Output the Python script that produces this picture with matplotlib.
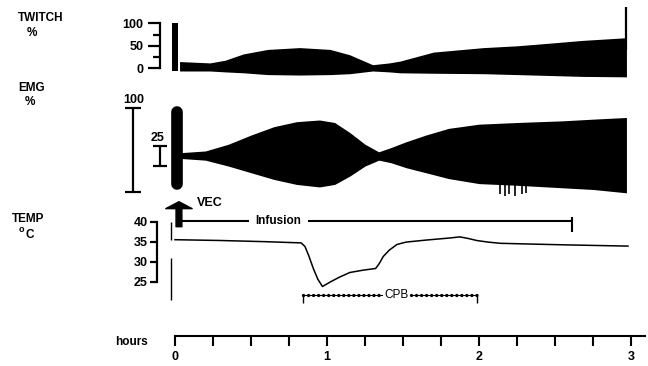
import matplotlib
matplotlib.use("Agg")
import matplotlib.pyplot as plt

plt.rcParams['font.family'] = ['Liberation Sans', 'DejaVu Sans']

# --- data (hours) ---
twitch_t = [0.03, 0.23, 0.33, 0.45, 0.61, 0.82, 1.02, 1.15, 1.30, 1.41, 1.48, 1.70, 2.03, 2.25, 2.47, 2.68, 2.97]
twitch_hi = [15, 12, 18, 32, 42, 46, 42, 30, 8, 12, 16, 36, 46, 50, 56, 62, 68]
twitch_lo = [-6, -6, -8, -10, -14, -15, -14, -12, -6, -8, -10, -11, -12, -14, -16, -18, -19]
twitch_spike_t, twitch_spike_val = 0.0, 100
twitch_end_t, twitch_end_val = 2.97, 136

emg_t = [0.04, 0.20, 0.35, 0.50, 0.65, 0.80, 0.95, 1.05, 1.15, 1.25, 1.34, 1.42, 1.52, 1.65, 1.80, 2.00, 2.25, 2.55, 2.75, 2.97]
emg_hi = [4, 6, 14, 25, 35, 41, 43, 40, 28, 14, 5, 10, 17, 25, 33, 38, 40, 42, 44, 46]
emg_lo = [-3, -5, -12, -20, -28, -34, -37, -34, -24, -12, -5, -8, -14, -20, -27, -33, -35, -38, -40, -44]
emg_spike_t, emg_spike_lo, emg_spike_hi = 0.01, -34, 52
emg_drop_t = [2.14, 2.17, 2.20, 2.24, 2.28, 2.31]
emg_drop_lo = [-46, -48, -45, -48, -46, -44]

temp_t = [0.0, 0.3, 0.6, 0.83, 0.855, 0.88, 0.91, 0.94, 0.97, 1.02, 1.08, 1.15, 1.24, 1.32,
          1.345, 1.37, 1.41, 1.46, 1.52, 1.65, 1.80, 1.875, 1.93, 1.985, 2.06, 2.14, 2.35, 2.58, 2.98]
temp_c = [35.5, 35.3, 35.0, 34.7, 33.8, 31.5, 28.3, 25.6, 23.8, 24.9, 26.1, 27.3, 27.9, 28.3,
          29.6, 31.3, 32.9, 34.3, 34.9, 35.4, 35.9, 36.2, 35.8, 35.3, 34.9, 34.6, 34.4, 34.2, 33.9]

vec_t = 0.026
infusion_start, infusion_end = 0.03, 2.61
cpb_start, cpb_end = 0.84, 1.99

hour_ticks = [0, 1, 2, 3]
hour_minor = [0.25, 0.5, 0.75, 1.25, 1.5, 1.75, 2.25, 2.5, 2.75]

# --- layout (pixels) ---
W, H = 648, 366
X0, PXH = 175, 152
XLIM = (-X0 / PXH, (W - X0) / PXH)

fig = plt.figure(figsize=(W / 100, H / 100), dpi=100)


def panel(ytop, ybot, ylim):
    ax = fig.add_axes([0, 1 - ybot / H, 1, (ybot - ytop) / H])
    ax.set_xlim(*XLIM)
    ax.set_ylim(*ylim)
    ax.patch.set_alpha(0)
    for s in ax.spines.values():
        s.set_visible(False)
    ax.set_xticks([])
    ax.set_yticks([])
    return ax


def ftext(x, y, s, **kw):
    kw.setdefault('fontweight', 'bold')
    kw.setdefault('fontsize', 8.5)
    fig.text(x / W, 1 - y / H, s, va='center', **kw)


# TWITCH
ax1 = panel(0, 85, (-37.1, 151.8))
ax1.fill_between(twitch_t, twitch_lo, twitch_hi, color='black', lw=0)
ax1.bar(twitch_spike_t, twitch_spike_val + 7, bottom=-7, width=0.045, color='black')
ax1.vlines(twitch_end_t, 40, twitch_end_val, color='black', lw=1.6)
sp = ax1.spines['left']
sp.set_visible(True)
sp.set_position(('data', (160 - X0) / PXH))
sp.set_bounds(0, 100)
sp.set_linewidth(1.6)
ax1.set_yticks([0, 50, 100])
ax1.set_yticks([25, 75], minor=True)
ax1.tick_params(axis='y', which='major', length=8.5, width=1.6, pad=3.5, labelsize=9)
ax1.tick_params(axis='y', which='minor', length=5, width=1.6)
for lbl in ax1.get_yticklabels():
    lbl.set_fontweight('bold')

# EMG
ax2 = panel(85, 215, (-70.5, 84.8))
ax2.fill_between(emg_t, emg_lo, emg_hi, color='black', lw=0)
ax2.plot([emg_spike_t, emg_spike_t], [emg_spike_lo, emg_spike_hi], color='black', lw=8.4,
         solid_capstyle='round')
ax2.vlines(emg_drop_t, -30, emg_drop_lo, color='black', lw=1.2)
# scale bars 100 % and 25 %
ax2.errorbar([(133.3 - X0) / PXH], [7.4], yerr=[50], fmt='none', ecolor='black',
             elinewidth=1.6, capsize=5.5, capthick=1.6)
ax2.errorbar([(160 - X0) / PXH], [0], yerr=[12.5], fmt='none', ecolor='black',
             elinewidth=1.6, capsize=4.7, capthick=1.6)
ax2.text((133.3 - X0) / PXH, 67, '100', ha='center', va='center', fontsize=9, fontweight='bold')
ax2.text((158 - X0) / PXH, 21.5, '25', ha='center', va='center', fontsize=9, fontweight='bold')

# TEMP
ax3 = panel(195, 315, (16.675, 46.675))
ax3.plot(temp_t, temp_c, color='black', lw=1.1)
sp = ax3.spines['left']
sp.set_visible(True)
sp.set_position(('data', (157.3 - X0) / PXH))
sp.set_bounds(25, 40)
sp.set_linewidth(1.6)
ax3.set_yticks([25, 30, 35, 40])
ax3.tick_params(axis='y', length=5.3, width=1.6, pad=1.5, labelsize=9)
for lbl in ax3.get_yticklabels():
    lbl.set_fontweight('bold')
ax3.vlines([(170.7 - X0) / PXH] * 2, [35.4, 20.5], [40, 30.9], color='black', lw=1.0)

# VEC arrow + infusion bar
ax3.annotate('', xy=(vec_t, 45.0), xytext=(vec_t, 38.75),
             arrowprops=dict(arrowstyle='simple,head_width=1.9,head_length=0.5,tail_width=0.42',
                             color='black', mutation_scale=10, shrinkA=0, shrinkB=0))
ax3.text(0.143, 44.7, 'VEC', ha='left', va='center', fontsize=9, fontweight='bold')
ax3.hlines(40.3, infusion_start, 0.49, color='black', lw=1.5)
ax3.hlines(40.3, 0.875, infusion_end, color='black', lw=1.5)
ax3.vlines(infusion_end, 37.5, 41.2, color='black', lw=1.5)
ax3.text(0.682, 40.3, 'Infusion', ha='center', va='center', fontsize=8.5, fontweight='bold')

# CPB beaded bar
for a, b in [(cpb_start, 1.36), (1.55, cpb_end)]:
    ax3.plot([a, b], [21.7, 21.7], color='black', lw=0.8)
    ax3.plot([a, b], [21.7, 21.7], color='black', lw=2.4, linestyle=(0, (0.01, 1.5)),
             dash_capstyle='round')
ax3.vlines([cpb_start, cpb_end], 19.7, 21.7, color='black', lw=1.0)
ax3.text(1.455, 21.7, 'CPB', ha='center', va='center', fontsize=8.5)

# hours axis
ax4 = panel(300, 336, (0, 1))
sp = ax4.spines['bottom']
sp.set_visible(True)
sp.set_bounds(0, 3.09)
sp.set_linewidth(1.5)
ax4.set_xticks(hour_ticks)
ax4.set_xticks(hour_minor, minor=True)
ax4.set_xticklabels([str(h) for h in hour_ticks], fontsize=9, fontweight='bold')
ax4.tick_params(axis='x', which='both', length=7.2, width=1.5, pad=3.5)

# panel labels
ftext(18, 18, 'TWITCH')
ftext(27, 33, '%')
ftext(18, 88, 'EMG')
ftext(25, 102, '%')
ftext(12, 219, 'TEMP')
ftext(19, 230, 'o', fontsize=6.5)
ftext(25, 235, 'C')
ftext(115, 342, 'hours', fontsize=8.5)

fig.savefig('out.png', dpi=100)
